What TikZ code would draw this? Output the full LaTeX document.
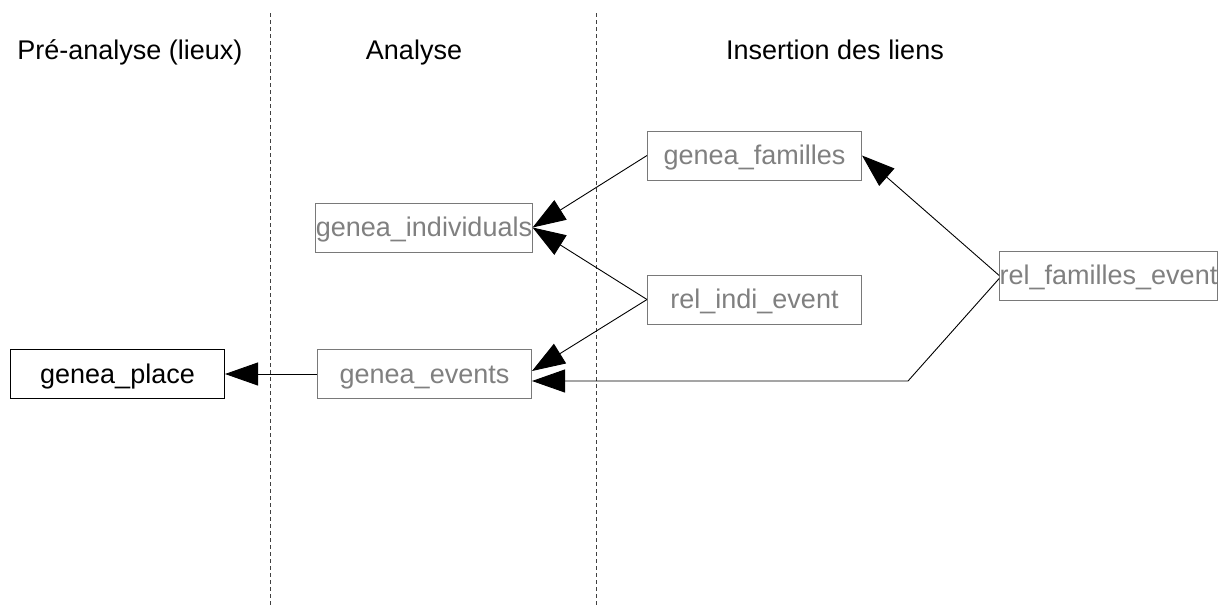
\documentclass[tikz,border=0pt]{standalone}
\usepackage{fontspec}
\setmainfont{Liberation Sans}
\usetikzlibrary{arrows.meta,calc}
\begin{document}
\begin{tikzpicture}[x=1pt,y=-1pt,
  table/.style={draw=gray!95!black, line width=1pt, text=gray, minimum width=214pt, minimum height=49pt, inner sep=0pt, text height=20pt, text depth=2pt, font=\fontsize{27pt}{32pt}\selectfont},
  maintable/.style={table, draw=black, text=black},
  title/.style={anchor=base, inner sep=0pt, font=\fontsize{27pt}{32pt}\selectfont},
  sep/.style={draw=black!75, line width=1pt, dash pattern=on 4pt off 3pt},
  link/.style={draw=black, line width=0.9pt, -{Triangle[length=33pt,width=23pt]}}]
\path[use as bounding box, fill=white] (0,0) rectangle (1228,605);
% separators
\coordinate (s1t) at (270,13); \coordinate (s1b) at (270,605);
\coordinate (s2t) at (596,13); \coordinate (s2b) at (596,605);
\path[sep] (s1t) -- (s1b);
\path[sep] (s2t) -- (s2b);
% titles
\node[title] (t1) at (130,59) {Pré-analyse (lieux)};
\node[title] (t2) at (414,59) {Analyse};
\node[title] (t3) at (835,59) {Insertion des liens};
% tables
\node[maintable] (gp) at (117.5,374) {genea\_place};
\node[table] (ev) at (424.5,374) {genea\_events};
\node[table] (ind) at (424,227.5) {genea\_individuals};
\node[table] (fam) at (754.5,155.5) {genea\_familles};
\node[table] (rie) at (754.5,299.5) {rel\_indi\_event};
\node[table] (rfe) at (1108.5,275.5) {rel\_familles\_event};
% anchors
\coordinate (evin1) at ($(ev.east)+(0,-3)$);
\coordinate (evin2) at ($(ev.east)+(0,7)$);
\coordinate (rfeout) at ($(rfe.west)+(0,3)$);
\coordinate (bend) at (908,381);
% links
\draw[link] (fam.west) -- (ind.east);
\draw[link] (rie.west) -- (ind.east);
\draw[link] (rie.west) -- (evin1);
\draw[link] (ev.west) -- (gp.east);
\draw[link] (rfe.west) -- (fam.east);
\draw[link] (rfeout) -- (bend) -- (evin2);
\end{tikzpicture}
\end{document}
